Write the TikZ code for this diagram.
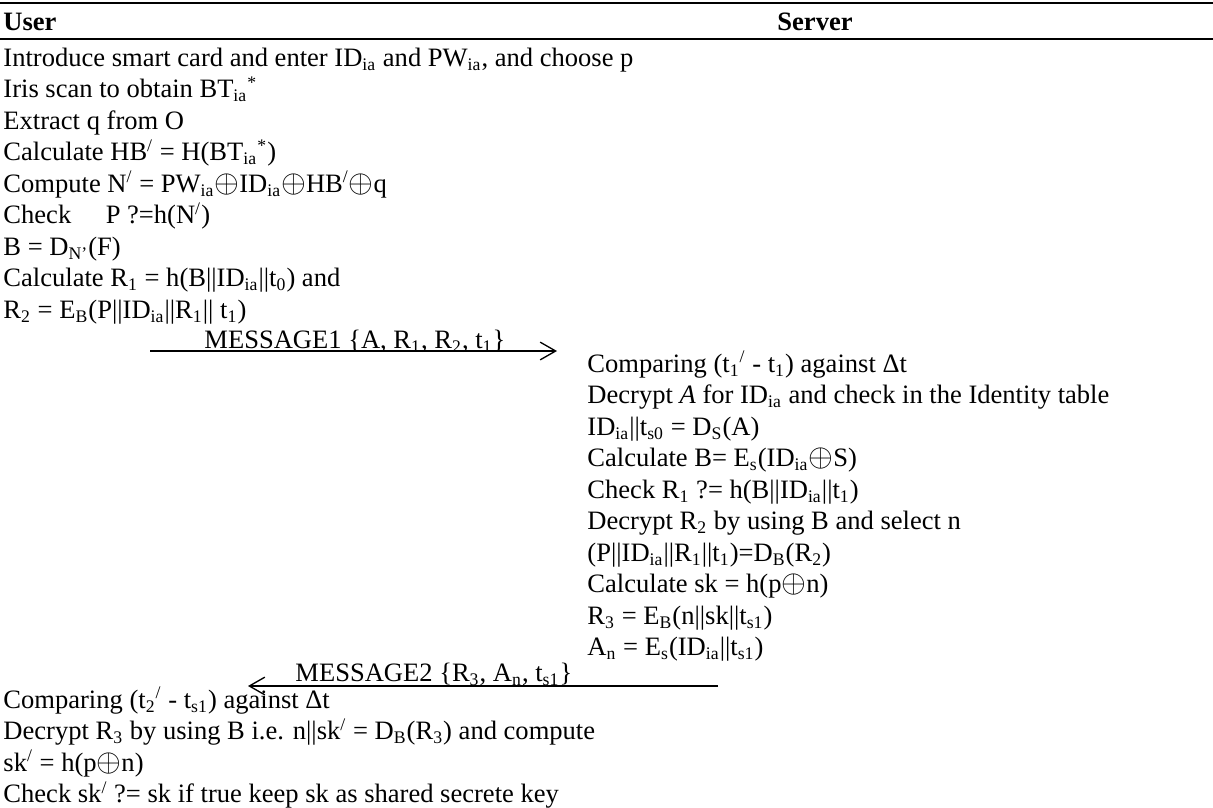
\documentclass[tikz,border=0pt]{standalone}
\usepackage{fontspec}
\setmainfont{Liberation Serif}
\usepackage{tikz}
\usetikzlibrary{arrows.meta, positioning}

\newcommand{\sbs}[1]{\textsubscript{#1}}
\newcommand{\sps}[1]{\textsuperscript{#1}}
\newcommand{\xorop}{\scalebox{1.2}{$\mathord{\oplus}$}}

\begin{document}
\begin{tikzpicture}[
    x = 0.452pt, y = -0.452pt,
    every node/.style = {font = \fontsize{12pt}{14pt}\selectfont, inner sep = 0pt},
    head/.style = {anchor = base, font = \fontsize{12pt}{14pt}\selectfont\bfseries},
    row/.style = {anchor = north west, text height = 9.9pt, text depth = 3.93pt},  % one line of the table
    rowbelow/.style = {row, below = 0pt of #1, anchor = north west},
    rule/.style = {line width = 1pt},
    msg/.style = {line width = 0.6pt, -{Straight Barb[length = 7pt, width = 8pt, line width = 0.6pt]}}
  ]
  \useasboundingbox (0,0) rectangle (1213,807);

  % header
  \coordinate (tl) at (0,3);    \coordinate (tr) at (1213,3);
  \coordinate (hl) at (0,39);   \coordinate (hr) at (1213,39);
  \draw[rule, line width = 1.2pt] (tl) -- (tr);
  \draw[rule] (hl) -- (hr);
  \node[head, anchor = base west] (user) at (3,30) {User};
  \node[head] (server) at (815,30) {Server};

  % user, before MESSAGE1
  \node[row] (u0) at (3,44) {Introduce smart card and enter ID\sbs{ia} and PW\sbs{ia}, and choose p};
  \node[rowbelow = u0.south west] (u1) {Iris scan to obtain BT\sbs{ia}\sps{*}};
  \node[rowbelow = u1.south west] (u2) {Extract q from O};
  \node[rowbelow = u2.south west] (u3) {Calculate HB\sps{/} = H(BT\sbs{ia}\sps{*})};
  \node[rowbelow = u3.south west] (u4) {Compute N\sps{/} = PW\sbs{ia}\xorop ID\sbs{ia}\xorop HB\sps{/}\xorop q};
  \node[rowbelow = u4.south west] (u5) {Check\hspace{1.3em}P ?=h(N\sps{/})};
  \node[rowbelow = u5.south west] (u6) {B = D\sbs{N'}(F)};
  \node[rowbelow = u6.south west] (u7) {Calculate R\sbs{1} = h(B||ID\sbs{ia}||t\sbs{0}) and};
  \node[rowbelow = u7.south west] (u8) {R\sbs{2} = E\sbs{B}(P||ID\sbs{ia}||R\sbs{1}|| t\sbs{1})};

  % MESSAGE1
  \node[row] (msg1) at (204,326) {MESSAGE1 \{A, R\sbs{1}, R\sbs{2}, t\sbs{1}\}};
  \coordinate (m1from) at (150,351);
  \coordinate (m1to) at (557,351);
  \draw[msg] (m1from) -- (m1to);

  % server
  \node[row] (s0) at (587,350) {Comparing (t\sbs{1}\sps{/} - t\sbs{1}) against Δt};
  \node[rowbelow = s0.south west] (s1) {Decrypt \textit{A} for ID\sbs{ia} and check in the Identity table};
  \node[rowbelow = s1.south west] (s2) {ID\sbs{ia}||t\sbs{s0} = D\sbs{S}(A)};
  \node[rowbelow = s2.south west] (s3) {Calculate B= E\sbs{s}(ID\sbs{ia}\xorop S)};
  \node[rowbelow = s3.south west] (s4) {Check R\sbs{1} ?= h(B||ID\sbs{ia}||t\sbs{1})};
  \node[rowbelow = s4.south west] (s5) {Decrypt R\sbs{2} by using B and select n};
  \node[rowbelow = s5.south west] (s6) {(P||ID\sbs{ia}||R\sbs{1}||t\sbs{1})=D\sbs{B}(R\sbs{2})};
  \node[rowbelow = s6.south west] (s7) {Calculate sk = h(p\xorop n)};
  \node[rowbelow = s7.south west] (s8) {R\sbs{3} = E\sbs{B}(n||sk||t\sbs{s1})};
  \node[rowbelow = s8.south west] (s9) {A\sbs{n} = E\sbs{s}(ID\sbs{ia}||t\sbs{s1})};

  % MESSAGE2
  \node[row] (msg2) at (295,659) {MESSAGE2 \{R\sbs{3}, A\sbs{n}, t\sbs{s1}\}};
  \coordinate (m2from) at (718,686);
  \coordinate (m2to) at (248,686);
  \draw[msg] (m2from) -- (m2to);

  % user, after MESSAGE2
  \node[row] (v0) at (3,686) {Comparing (t\sbs{2}\sps{/} - t\sbs{s1}) against Δt};
  \node[rowbelow = v0.south west] (v1) {Decrypt R\sbs{3} by using B i.e. n||sk\sps{/} = D\sbs{B}(R\sbs{3}) and compute};
  \node[rowbelow = v1.south west] (v2) {sk\sps{/} = h(p\xorop n)};
  \node[rowbelow = v2.south west] (v3) {Check sk\sps{/} ?= sk if true keep sk as shared secrete key};
\end{tikzpicture}
\end{document}
